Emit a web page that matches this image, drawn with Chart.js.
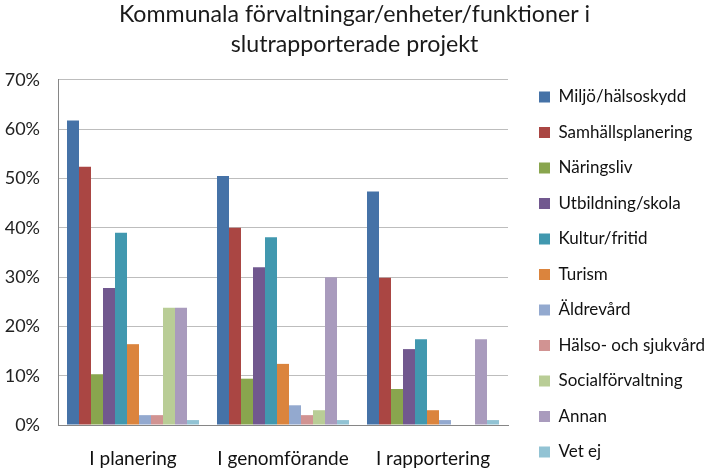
<!DOCTYPE html>
<html>
<head>
<meta charset="utf-8">
<script src="https://cdn.jsdelivr.net/npm/chart.js@4"></script>
<style>
  html, body { margin: 0; padding: 0; background: #fff; }
  #wrap { width: 709px; height: 468px; position: relative; }
</style>
</head>
<body>
<div id="wrap"><canvas id="c"></canvas></div>
<script>
const categories = ['I planering', 'I genomförande', 'I rapportering'];
const seriesNames = ['Miljö/hälsoskydd', 'Samhällsplanering', 'Näringsliv', 'Utbildning/skola', 'Kultur/fritid', 'Turism', 'Äldrevård', 'Hälso- och sjukvård', 'Socialförvaltning', 'Annan', 'Vet ej'];
const miljo     = [61.8, 50.5, 47.4];
const samhall   = [52.4, 40.0, 29.9];
const naring    = [10.3, 9.4, 7.3];
const utbild    = [27.8, 32.0, 15.4];
const kultur    = [39.0, 38.1, 17.4];
const turism    = [16.4, 12.4, 3.0];
const aldre     = [2.0, 4.0, 1.0];
const halso     = [2.0, 2.0, 0];
const social    = [23.8, 3.0, 0];
const annan     = [23.8, 30.0, 17.4];
const vetej     = [1.0, 1.0, 1.0];
const yTicks = [0, 10, 20, 30, 40, 50, 60, 70];
const colors = ['#4572A7', '#AA4643', '#89A54E', '#71588F', '#4198AF', '#DB843D', '#93A9CF', '#D19392', '#B9CD96', '#A99BBD', '#92C3D4'];

const seriesData = [miljo, samhall, naring, utbild, kultur, turism, aldre, halso, social, annan, vetej];
const datasets = seriesNames.map((name, i) => ({
  label: name,
  data: seriesData[i],
  backgroundColor: colors[i],
  borderWidth: 0,
  barPercentage: 1.0,
  categoryPercentage: 0.88
}));

const FONT = 'Lato, "Open Sans", sans-serif';
const LEG_PAD = 18.5;

// Place title across the full width and the legend in the right-hand margin.
const placeBoxes = {
  id: 'placeBoxes',
  beforeLayout(chart) {
    const lg = chart.legend;
    if (lg && !lg._tallFit) {
      const orig = lg.fit;
      lg.fit = function () {
        const mh = this.maxHeight;
        this.maxHeight = 2000;
        orig.call(this);
        this.maxHeight = mh;
      };
      lg._tallFit = true;
    }
  },
  afterLayout(chart) {
    const t = chart.titleBlock;
    if (t) { t.left = 0; t.right = chart.width; t.width = chart.width; }
    const lg = chart.legend;
    if (lg) {
      lg.left = 539 - LEG_PAD;
      lg.top = 88.5 - LEG_PAD;
      lg.right = chart.width;
      lg.width = lg.right - lg.left;
      lg.bottom = lg.top + 600;
      lg.height = 600;
    }
  }
};

new Chart(document.getElementById('c'), {
  type: 'bar',
  data: { labels: categories, datasets },
  plugins: [placeBoxes],
  options: {
    responsive: true,
    maintainAspectRatio: false,
    animation: false,
    layout: { padding: { left: 0, right: 201, top: 0, bottom: 0 } },
    plugins: {
      title: {
        display: true,
        text: ['Kommunala förvaltningar/enheter/funktioner i', 'slutrapporterade projekt'],
        font: { family: FONT, size: 23.2, weight: 'normal', lineHeight: 1.293 },
        color: '#1a1a1a',
        padding: { top: 0, bottom: 20 }
      },
      legend: {
        position: 'chartArea',
        align: 'start',
        labels: {
          font: { family: FONT, size: 17 },
          color: '#111',
          boxWidth: 11,
          boxHeight: 11,
          padding: LEG_PAD
        }
      },
      tooltip: { enabled: false }
    },
    scales: {
      x: {
        afterFit: (axis) => { axis.height = 43; },
        grid: { display: false, drawTicks: false },
        border: { color: '#868686', width: 1 },
        ticks: { font: { family: FONT, size: 19 }, color: '#111', padding: 22 }
      },
      y: {
        min: 0,
        max: 70,
        afterFit: (axis) => { axis.width = 58; },
        afterBuildTicks: (axis) => { axis.ticks = yTicks.map(v => ({ value: v })); },
        grid: { color: '#BDBDBD', lineWidth: 1, drawTicks: false },
        border: { color: '#868686', width: 1 },
        ticks: {
          font: { family: FONT, size: 18 },
          color: '#222',
          padding: 18,
          callback: (v) => v + '%'
        }
      }
    }
  }
});
</script>
</body>
</html>
